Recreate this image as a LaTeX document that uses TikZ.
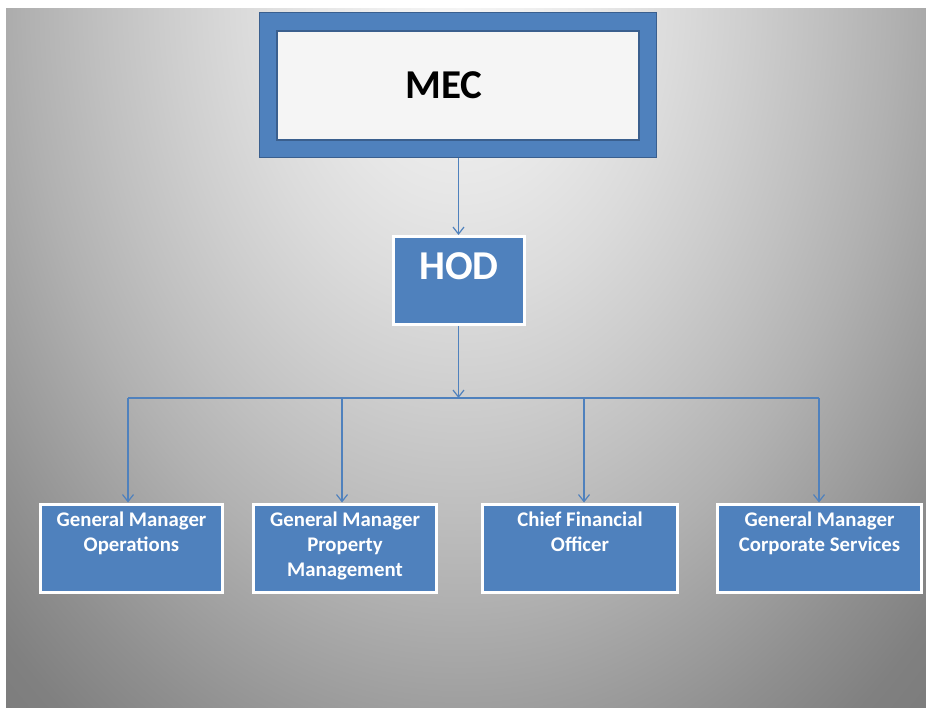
\documentclass[tikz,border=0pt]{standalone}
\usepackage{fontspec}
\setmainfont{Carlito}
\usetikzlibrary{arrows.meta}

\definecolor{boxblue}{HTML}{4F81BD}
\definecolor{edgeblue}{HTML}{3A5F8E}
\definecolor{pane}{HTML}{F5F5F5}

% soft grey backdrop: bright at the top middle, falling off towards the corners
\pgfdeclareradialshading{backdrop}{\pgfpointorigin}{%
  rgb(0bp)=(.957,.957,.957);
  rgb(2.5bp)=(.937,.937,.937);
  rgb(5bp)=(.902,.902,.902);
  rgb(7.5bp)=(.859,.859,.859);
  rgb(10bp)=(.808,.808,.808);
  rgb(12.5bp)=(.753,.753,.753);
  rgb(15bp)=(.694,.694,.694);
  rgb(17.5bp)=(.627,.627,.627);
  rgb(20bp)=(.561,.561,.561);
  rgb(22.5bp)=(.502,.502,.502);
  rgb(25bp)=(.478,.478,.478);
  rgb(50bp)=(.478,.478,.478)}

\tikzset{
  mecframe/.style={draw=edgeblue, line width=1.2pt, fill=boxblue,
    minimum width=397pt, minimum height=145pt, inner sep=0pt},
  mecpane/.style={draw=edgeblue, line width=1.2pt, fill=pane,
    minimum width=362pt, minimum height=109pt, inner sep=0pt},
  bluebox/.style={draw=white, line width=3pt, fill=boxblue, inner sep=0pt,
    minimum height=88pt},
  title/.style={font=\fontsize{41}{49}\selectfont\bfseries, text=black, inner sep=0pt},
  boxtitle/.style={font=\fontsize{41}{49}\selectfont\bfseries, text=white, inner sep=0pt},
  boxlabel/.style={font=\fontsize{20.8}{25}\selectfont\bfseries, text=white,
    align=center, inner sep=0pt},
  wire/.style={draw=boxblue, line width=1.2pt},
  link/.style={wire, -{Straight Barb[length=7pt,width=11pt,line width=1.2pt]}},
}

\begin{document}
\begin{tikzpicture}[x=1pt, y=-1pt]
  \useasboundingbox (0,0) rectangle (926,708);

  % backdrop
  \begin{scope}
    \clip (6,9) rectangle (926,708);
    \shade[shading=backdrop] (460,0) ellipse [x radius=722, y radius=1000];
  \end{scope}

  % top box
  \node[mecframe] (mec) at (458,85) {};
  \node[mecpane] (mecpane) at (458,85.5) {};
  \node[title] (mectext) at (444,85) {MEC};

  % head of department
  \node[bluebox, minimum width=131pt] (hod) at (459,280.5) {};
  \node[boxtitle, anchor=base] (hodtext) at (459,280) {HOD};

  % managers
  \node[bluebox, minimum width=182pt] (gmo) at (131.5,548) {};
  \node[bluebox, minimum width=183pt] (gmp) at (345,548) {};
  \node[bluebox, minimum width=195pt] (cfo) at (580,548) {};
  \node[bluebox, minimum width=204pt] (gmc) at (819.5,548) {};

  \node[boxlabel, anchor=north] (gmotext) at (131.5,512) {General Manager\\Operations};
  \node[boxlabel, anchor=north] (gmptext) at (345,512) {General Manager\\Property\\Management};
  \node[boxlabel, anchor=north] (cfotext) at (580,512) {Chief Financial\\Officer};
  \node[boxlabel, anchor=north] (gmctext) at (819.5,512) {General Manager\\Corporate Services};

  % connectors
  \coordinate (split) at (458.5,398);
  \coordinate (busL) at (128,398);
  \coordinate (tapB) at (342,398);
  \coordinate (tapC) at (584,398);
  \coordinate (busR) at (819,398);

  \draw[link] (mec.south -| split) -- (hod.north -| split);
  \draw[link] (hod.south -| split) -- (split);
  \draw[wire] (busL) -- (busR);
  \draw[link] (busL) -- (busL |- gmo.north);
  \draw[link] (tapB) -- (tapB |- gmp.north);
  \draw[link] (tapC) -- (tapC |- cfo.north);
  \draw[link] (busR) -- (busR |- gmc.north);
\end{tikzpicture}
\end{document}
